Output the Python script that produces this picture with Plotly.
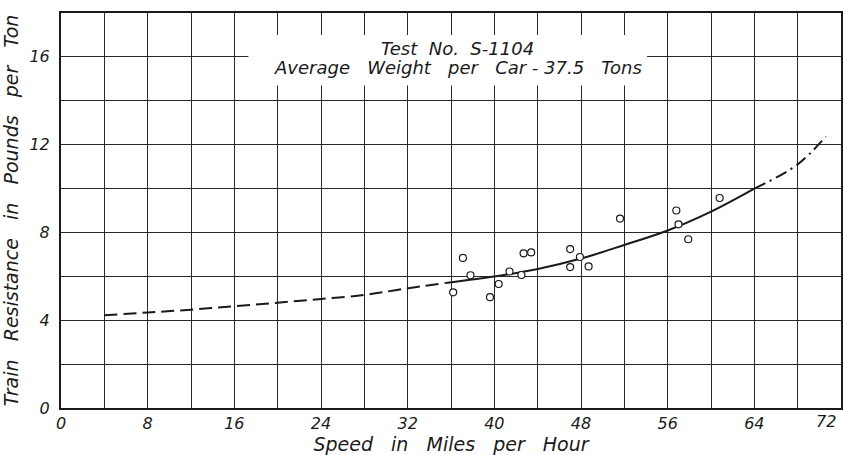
import plotly.graph_objects as go

# Observed test points (speed mph, resistance lb/ton)
speed = [36.2, 37.1, 37.8, 39.6, 40.4, 41.4, 42.5, 42.7, 43.4, 47.0, 47.0, 47.9, 48.7, 51.6, 56.8, 57.0, 57.9, 60.8]
resist = [5.27, 6.84, 6.05, 5.05, 5.65, 6.22, 6.06, 7.05, 7.09, 7.24, 6.42, 6.88, 6.45, 8.63, 9.00, 8.37, 7.69, 9.57]

# Fitted curve, in three drawn styles
dash_x = [4, 8, 12, 16, 20, 24, 28, 31.4, 35.5]
dash_y = [4.23, 4.35, 4.48, 4.64, 4.80, 4.97, 5.15, 5.41, 5.70]
solid_x = [35.5, 40, 44, 48, 52, 56, 60, 64]
solid_y = [5.70, 5.99, 6.33, 6.81, 7.43, 8.09, 8.95, 10.0]
dashdot_x = [64, 68, 70.6]
dashdot_y = [10.0, 11.1, 12.38]

x_ticks = [0, 8, 16, 24, 32, 40, 48, 56, 64, 72]
x_tick_text = ["0", "8", "16", "24", "32", "40", "48", "56", "64", "72"]
y_ticks = [0, 4, 8, 12, 16]
y_tick_text = ["0", "4", "8", "12", "16"]

FONT = "DejaVu Sans"
INK = "#1a1a1a"
SP2 = "&nbsp;&nbsp;"
SP3 = "&nbsp;&nbsp;&nbsp;"
TICKFONT = dict(family=FONT, size=16, color=INK, style="italic")

fig = go.Figure()
fig.add_trace(go.Scatter(x=dash_x, y=dash_y, mode="lines", line=dict(color=INK, width=2, dash="13px,6px", shape="spline"), hoverinfo="skip"))
fig.add_trace(go.Scatter(x=solid_x, y=solid_y, mode="lines", line=dict(color=INK, width=2, shape="spline"), hoverinfo="skip"))
fig.add_trace(go.Scatter(x=dashdot_x, y=dashdot_y, mode="lines", line=dict(color=INK, width=2, dash="12px,5px,2px,5px", shape="spline"), hoverinfo="skip"))
fig.add_trace(go.Scatter(x=speed, y=resist, mode="markers",
                         marker=dict(symbol="circle", size=7, color="white", line=dict(color=INK, width=1.2))))

axis_common = dict(
    showline=True, linecolor=INK, linewidth=2, mirror=True,
    showgrid=True, gridcolor="#2a2a2a", gridwidth=1.2,
    zeroline=False, ticks="",
    tickfont=TICKFONT,
    automargin=False,
)

# the last x label sits at the window edge, so it is placed right-aligned as an annotation
fig.update_xaxes(range=[0, 72], tickmode="array", tickvals=x_ticks,
                 ticktext=x_tick_text[:-1] + [""],
                 minor=dict(dtick=4, showgrid=True, gridcolor="#2a2a2a", gridwidth=1.2),
                 title=dict(text=SP3.join(["Speed", "in", "Miles", "per", "Hour"]), standoff=5,
                            font=dict(family=FONT, size=19, color=INK, style="italic")),
                 **axis_common)
fig.add_annotation(x=x_ticks[-1], y=0, xref="x", yref="paper", showarrow=False,
                   text=x_tick_text[-1], xanchor="right", yanchor="top", xshift=-3, yshift=-2,
                   font=TICKFONT)

fig.update_yaxes(range=[0, 18], tickmode="array", tickvals=y_ticks, ticktext=y_tick_text,
                 minor=dict(dtick=2, showgrid=True, gridcolor="#2a2a2a", gridwidth=1.2),
                 ticklabelstandoff=6,
                 title=dict(text=SP3.join(["Train", "Resistance", "in", "Pounds", "per", "Ton"]), standoff=8,
                            font=dict(family=FONT, size=19, color=INK, style="italic")),
                 **axis_common)

# White label box over the grid
fig.add_shape(type="rect", xref="x", yref="y", x0=17.3, x1=54.1, y0=14.7, y1=17.0,
              fillcolor="white", line=dict(width=0), layer="above")
fig.add_annotation(x=36.6, y=16.4, xref="x", yref="y", showarrow=False,
                   text=SP2.join(["Test", "No.", "S-1104"]),
                   font=dict(family=FONT, size=18, color=INK, style="italic"))
fig.add_annotation(x=36.6, y=15.5, xref="x", yref="y", showarrow=False,
                   text=SP3.join(["Average", "Weight", "per", "Car&nbsp;-&nbsp;37.5", "Tons"]),
                   font=dict(family=FONT, size=18, color=INK, style="italic"))

fig.update_layout(
    width=843, height=455,
    margin=dict(l=61, r=2, t=13, b=47),
    paper_bgcolor="white", plot_bgcolor="white",
    showlegend=False,
)

# remove the default page margin so the 843x455 figure fills the window exactly
fig.write_html("out.html", config={"displayModeBar": False},
               post_script="document.body.style.margin='0';document.body.style.overflow='hidden';")
